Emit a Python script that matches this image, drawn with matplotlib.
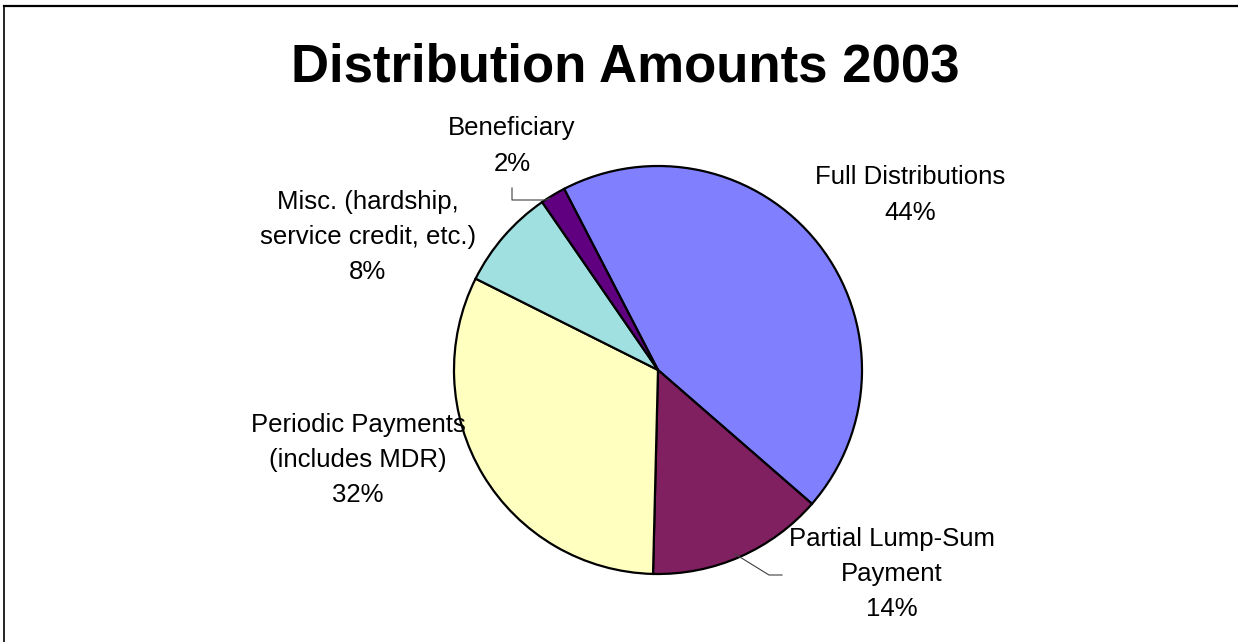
import matplotlib.pyplot as plt
from matplotlib.lines import Line2D

plt.rcParams['font.family'] = ['Liberation Sans', 'DejaVu Sans']

labels = ['Full Distributions', 'Partial Lump-Sum\nPayment', 'Periodic Payments\n(includes MDR)',
          'Misc. (hardship,\nservice credit, etc.)', 'Beneficiary']
shares = [44, 14, 32, 8, 2]
colors = ['#8080FF', '#802060', '#FFFFC0', '#A0E0E0', '#600080']

W, H = 1238, 642
fig = plt.figure(figsize=(W / 100, H / 100), dpi=100)
ax = fig.add_axes([0, 0, 1, 1])

# pie in pixel coordinates (y measured up from the bottom)
cx, cy, r = 658, H - 370, 204
ax.pie(shares, colors=colors, center=(cx, cy), radius=r, startangle=117.4,
       counterclock=False, wedgeprops=dict(edgecolor='black', linewidth=1.6))
ax.set_xlim(0, W)
ax.set_ylim(0, H)
ax.set_aspect('auto')
ax.axis('off')

ax.text(625, H - 68, 'Distribution Amounts 2003', ha='center', va='center',
        fontsize=38, fontweight='bold')

# label centres for each slice, same order as the data
label_pos = [(910, 195), (892, 574), (358, 460), (368, 237), (512, 146)]
for lab, val, (x, y) in zip(labels, shares, label_pos):
    ax.text(x, H - y, f'{lab}\n{val}%', ha='center', va='center',
            fontsize=18.5, linespacing=1.6)

# leader lines
ax.plot([512, 512, 546, 550], [H - 188, H - 200, H - 200, H - 198],
        color='#404040', lw=0.8)
ax.plot([735, 769, 782], [H - 554, H - 575, H - 575], color='#404040', lw=0.8)

# chart area frame (top and left edges visible)
fig.add_artist(Line2D([4 / W, 1], [1 - 6 / H, 1 - 6 / H], color='black', lw=1.6,
                      transform=fig.transFigure))
fig.add_artist(Line2D([4 / W, 4 / W], [0, 1 - 6 / H], color='black', lw=1.2,
                      transform=fig.transFigure))

fig.savefig('out.png', dpi=100, facecolor='white')
